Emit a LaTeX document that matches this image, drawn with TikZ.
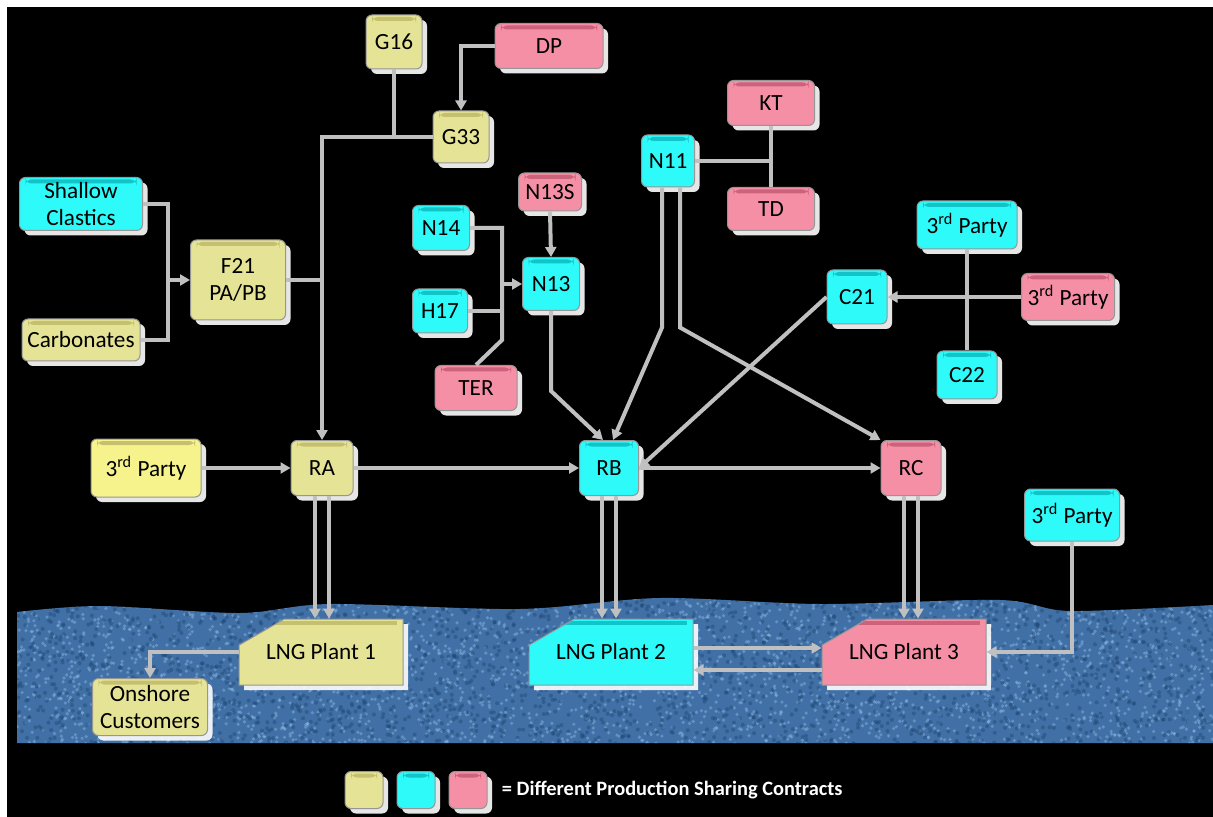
\documentclass[tikz,border=0pt]{standalone}
\usepackage{fontspec}
\setmainfont{Carlito}
\usetikzlibrary{arrows.meta,shapes.misc,shadows,positioning}
\definecolor{pscy}{RGB}{229,227,150}
\definecolor{pscyd}{RGB}{196,192,112}
\definecolor{pscyb}{RGB}{246,243,140}
\definecolor{pscc}{RGB}{46,250,250}
\definecolor{psccd}{RGB}{18,196,200}
\definecolor{pscp}{RGB}{245,143,166}
\definecolor{pscpd}{RGB}{205,98,125}
\definecolor{boxedge}{RGB}{150,150,150}
\definecolor{pipegray}{RGB}{192,192,192}
\definecolor{sea}{RGB}{64,112,165}
\definecolor{seahi}{RGB}{140,186,230}
\definecolor{sealo}{RGB}{32,70,118}
\begin{document}
\begin{tikzpicture}[x=0.5pt,y=-0.5pt,
    pipe/.style={draw=pipegray,line width=2pt},
    flow/.style={pipe,-{Triangle[length=5pt,width=5.5pt]}},
    sz/.style 2 args={minimum width=#1,minimum height=#2},
    field/.style 2 args={rectangle,rounded corners=3pt,draw=boxedge,line width=0.5pt,fill=#1,
      align=center,inner sep=2pt,font=\fontsize{11.6}{13.5}\selectfont,
      drop shadow={fill=white,opacity=0.9,shadow xshift=2.5pt,shadow yshift=-2.5pt},
      path picture={\fill[#2] ([xshift=3pt,yshift=-1pt]path picture bounding box.north west) rectangle ([xshift=-3pt,yshift=-3pt]path picture bounding box.north east);}},
    yfield/.style={field={pscy}{pscyd}},
    ybright/.style={field={pscyb}{pscyd}},
    cfield/.style={field={pscc}{psccd}},
    pfield/.style={field={pscp}{pscpd}},
    plant/.style={chamfered rectangle,chamfered rectangle corners=north west,
      chamfered rectangle angle=60,chamfered rectangle xsep=13pt,chamfered rectangle ysep=7pt,sharp corners,
      minimum width=82pt,minimum height=33pt}]
    \useasboundingbox (0,0) rectangle (1213,817);
    \fill[white] (0,0) rectangle (1213,817);
    \fill[black] (7,7) rectangle (1213,817);
    \begin{scope}
        \clip plot[smooth] coordinates {(17,612) (100,606) (240,613) (330,604) (520,609) (660,598) (820,604) (1000,600) (1070,611) (1213,605)} -- (1213,743) -- (17,743) -- cycle;
        \fill[sea] (0,580) rectangle (1213,750);
        \pgfmathsetseed{42}
        \foreach \i in {1,...,3000} {
                \pgfmathsetmacro{\sx}{17+1196*rnd}
                \pgfmathsetmacro{\sy}{594+150*rnd}
                \fill[seahi,opacity=0.45] (\sx,\sy) circle (0.9pt);
            }
        \foreach \i in {1,...,2500} {
                \pgfmathsetmacro{\sx}{17+1196*rnd}
                \pgfmathsetmacro{\sy}{594+150*rnd}
                \fill[sealo,opacity=0.45] (\sx,\sy) circle (1pt);
            }
    \end{scope}

    \node[yfield,sz={28pt}{27pt}] (g16) at (394,42) {G16};
    \node[pfield,sz={54pt}{22.5pt}] (dp) at (549,46) {DP};
    \node[yfield,sz={28pt}{26pt}] (g33) at (461,137) {G33};
    \node[pfield,sz={43.5pt}{22.5pt}] (kt) at (771,103) {KT};
    \node[cfield,sz={26.5pt}{26pt}] (n11) at (668,161) {N11};
    \node[pfield,sz={43.5pt}{21.5pt}] (td) at (771,209) {TD};
    \node[cfield,sz={61.5pt}{26.5pt}] (shallow) at (81,204) {Shallow\\Clastics};
    \node[yfield,sz={47.5pt}{40pt}] (f21) at (238,280) {F21\\PA/PB};
    \node[yfield,sz={59pt}{21pt}] (carb) at (81,340) {Carbonates};
    \node[pfield,sz={31.5pt}{19pt}] (n13s) at (550,192) {N13S};
    \node[cfield,sz={28.5pt}{22.5pt}] (n14) at (441,228) {N14};
    \node[cfield,sz={28.5pt}{26.5pt}] (n13) at (551,284) {N13};
    \node[cfield,sz={27.5pt}{22pt}] (h17) at (440,311) {H17};
    \node[pfield,sz={41pt}{22.5pt}] (ter) at (476,388) {TER};
    \node[cfield,sz={50pt}{24pt}] (tpc1) at (967,225) {3\textsuperscript{rd} Party};
    \node[cfield,sz={30pt}{27pt}] (c21) at (857,297) {C21};
    \node[pfield,sz={46.5pt}{23.5pt}] (tpp) at (1068,297) {3\textsuperscript{rd} Party};
    \node[cfield,sz={30pt}{24pt}] (c22) at (967,375) {C22};
    \node[ybright,sz={55pt}{29pt}] (tpy) at (146,468) {3\textsuperscript{rd} Party};
    \node[yfield,sz={31pt}{27.5pt}] (ra) at (322,468) {RA};
    \node[cfield,sz={29.5pt}{27.5pt}] (rb) at (609,468) {RB};
    \node[pfield,sz={30pt}{27.5pt}] (rc) at (911,468) {RC};
    \node[cfield,sz={47.5pt}{26pt}] (tpc2) at (1072,515) {3\textsuperscript{rd} Party};
    \node[yfield,plant] (lng1) at (321,652) {LNG Plant 1};
    \node[cfield,plant] (lng2) at (611,652) {LNG Plant 2};
    \node[pfield,plant] (lng3) at (904,652) {LNG Plant 3};
    \node[yfield,sz={57.5pt}{28.5pt}] (onshore) at (150,707) {Onshore\\Customers};

    \draw[pipe] (g16.south) -- (g16.south |- g33.west);
    \draw[flow] (g33.west) -| (ra.north);
    \draw[flow] (dp.west) -| (g33.north);
    \draw[pipe] (f21.east) -- (f21.east -| ra.north);
    \coordinate (fjoin) at ([xshift=-11pt]f21.west);
    \draw[pipe] (shallow.east) -| (fjoin) |- (carb.east);
    \draw[flow] (fjoin) -- (f21.west);
    \draw[pipe] (kt.south) -- (td.north);
    \draw[pipe] (n11.east) -- (n11.east -| kt.south);
    \draw[flow] (n13s.south) -- (n13.north);
    \coordinate (njoin) at (502,340);
    \draw[pipe] (n14.east) -| (njoin) -- (ter.north);
    \draw[pipe] (h17.east) -- (h17.east -| njoin);
    \draw[flow] (njoin |- n13.west) -- (n13.west);
    \draw[flow] (n13.south) -- ++(0,80) -- ([xshift=-3pt]rb.north);
    \draw[flow] ([xshift=-3pt]n11.south) -- ++(0,140) -- ([xshift=2pt]rb.north);
    \draw[flow] ([xshift=6pt]n11.south) -- ++(0,140) -- (rc.north west);
    \draw[flow] (c21.west) -- (rb.east);
    \draw[flow] (tpp.west) -- (c21.east);
    \draw[pipe] (tpc1.south) -- (c22.north);
    \draw[flow] (tpy.east) -- (ra.west);
    \draw[flow] (ra.east) -- (rb.west);
    \draw[flow] (rb.east) -- (rc.west);
    \foreach \r/\p in {ra/lng1, rb/lng2, rc/lng3} {
            \foreach \s in {-3.5pt, 3.5pt} {
                    \draw[flow] ([xshift=\s]\r.south) -- ([xshift=\s]\p.north -| \r.south);
                }
        }
    \draw[flow] ([yshift=2pt]lng2.east) -- ([yshift=2pt]lng3.west);
    \draw[flow] ([yshift=-9pt]lng3.west) -- ([yshift=-9pt]lng2.east);
    \draw[flow] (tpc2.south) |- (lng3.east);
    \draw[flow] (lng1.west) -| (onshore.north);

    \node[yfield,sz={19pt}{18.5pt}] (keyy) at (364,790) {};
    \node[cfield,sz={19pt}{18.5pt}] (keyc) at (416,790) {};
    \node[pfield,sz={19pt}{18.5pt}] (keyp) at (468,790) {};
    \node[right=7pt of keyp,text=white,inner sep=0pt,font=\bfseries\fontsize{10.2}{11}\selectfont] (keytext) {= Different Production Sharing Contracts};
\end{tikzpicture}
\end{document}
